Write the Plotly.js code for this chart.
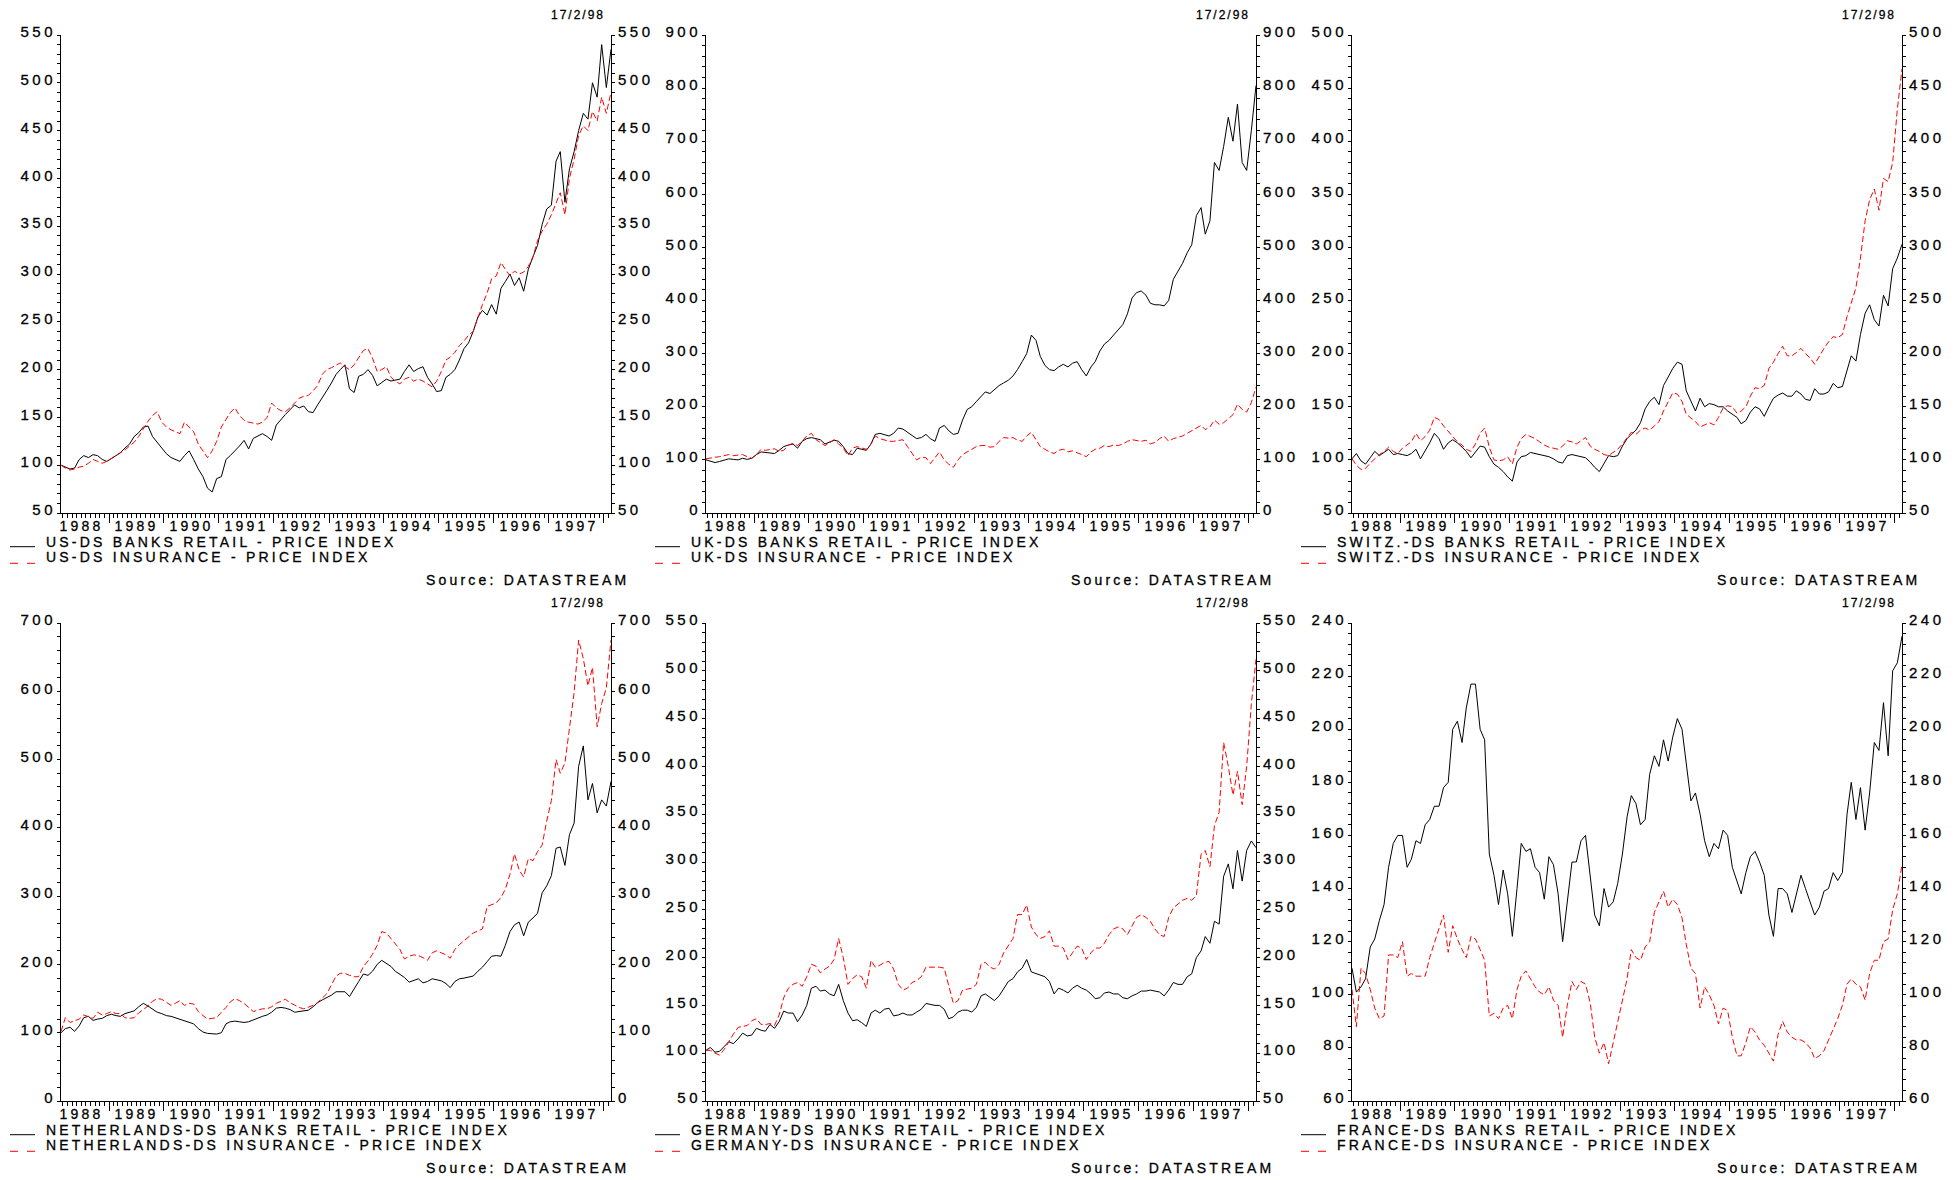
<!DOCTYPE html>
<html><head><meta charset="utf-8">
<script src="https://cdn.plot.ly/plotly-3.0.1.min.js"></script>
<style>
html,body{margin:0;padding:0;background:#fff;}
#chart{width:1957px;height:1180px;}
svg text{letter-spacing:3.2px;stroke:#000;stroke-width:0.3px;}
g[class^="y"][class$="tick"] text{letter-spacing:3.5px;}
</style></head><body><div id="chart"></div>
<script>
// Monthly observations, 17 Feb 1988 .. 17 Feb 1998
const startYear = 1988, startMonth = 2, nPoints = 121;

const usBanks = [100,98,96,97,106,110,108,111,110,106,104,
 107,110,113,118,122,130,134,140,141,130,124,118,
 112,108,106,104,110,115,106,96,88,76,72,86,
 88,106,110,115,120,126,117,128,131,133,130,126,
 142,148,153,158,163,160,162,156,155,163,170,178,
 186,195,200,205,180,176,193,195,200,194,183,186,
 190,188,189,190,198,205,198,201,203,192,185,177,
 178,192,195,200,210,222,228,240,255,262,257,268,
 258,285,292,300,288,296,282,305,318,330,352,368,
 372,418,428,375,410,428,450,468,462,500,485,540,
 495,535];
const usIns = [100,97,95,96,98,99,102,106,104,102,104,
 107,110,113,116,120,124,130,138,146,152,156,145,
 140,137,135,133,145,140,135,122,115,108,115,125,
 140,148,155,160,152,147,145,144,143,145,150,165,
 160,157,156,160,165,170,172,173,178,183,195,200,
 202,205,207,203,200,205,212,220,222,212,198,200,
 203,192,188,185,190,192,188,190,188,185,182,188,
 198,210,213,218,225,230,236,240,255,268,280,295,
 298,312,305,298,303,300,302,308,318,335,345,352,
 362,375,385,362,400,420,445,455,450,470,460,485,
 468,490];
const ukBanks = [100,98,95,97,100,102,101,100,103,101,103,
 110,115,114,113,112,118,125,128,130,122,135,140,
 142,140,138,130,133,137,135,125,112,110,122,120,
 118,130,148,150,148,145,150,160,158,152,145,140,
 142,148,140,135,160,165,155,148,150,175,195,200,
 210,220,228,225,232,240,245,250,258,270,285,300,
 335,325,295,278,270,268,275,280,275,282,285,270,
 258,275,285,305,318,325,335,345,355,375,405,415,
 418,410,395,392,392,390,400,440,455,470,490,505,
 560,575,525,550,660,645,690,745,700,770,660,645,
 720,805];
const ukIns = [102,104,105,106,108,110,108,109,110,106,103,
 110,120,118,120,121,116,118,128,131,127,135,145,
 150,138,132,127,132,138,130,122,108,122,125,122,
 120,130,145,140,137,135,135,136,138,125,112,100,
 105,104,93,105,115,100,92,86,100,110,115,120,
 125,127,127,124,125,135,142,141,142,137,135,145,
 152,138,125,120,115,112,118,120,115,117,114,110,
 106,115,120,122,127,125,128,127,130,135,138,136,
 135,137,130,133,140,145,135,140,142,145,150,155,
 160,165,157,162,175,167,170,178,185,205,195,190,
 208,237];
const swBanks = [101,106,99,96,102,108,104,107,110,105,106,
 105,104,106,110,101,108,116,125,120,110,116,119,
 116,112,108,102,108,113,112,103,96,93,89,84,
 80,98,103,104,107,106,105,104,103,101,98,97,
 104,105,104,103,102,98,93,89,97,104,103,104,
 113,120,124,128,135,148,155,159,152,170,178,186,
 192,190,165,155,146,158,150,153,152,150,150,146,
 143,140,134,137,145,150,148,141,150,158,161,163,
 160,160,165,162,157,156,167,162,162,164,172,168,
 169,185,198,193,218,238,246,232,226,255,245,280,
 290,303];
const swIns = [101,95,91,92,97,101,105,108,112,108,106,
 111,114,117,125,118,122,128,140,138,132,127,122,
 117,114,110,108,115,125,130,112,100,99,100,103,
 96,112,120,124,122,120,117,114,112,111,110,113,
 118,117,115,118,121,113,110,108,105,104,107,110,
 115,121,126,124,128,130,128,132,136,146,155,163,
 162,155,143,139,136,131,133,135,133,140,149,151,
 150,144,146,150,160,168,167,170,186,192,200,207,
 198,198,201,205,200,196,190,198,205,211,216,215,
 218,235,247,262,290,325,345,355,335,365,362,380,
 430,468];
const nlBanks = [100,106,108,102,110,122,124,118,120,121,125,
 127,125,124,128,130,132,138,143,139,134,130,128,
 125,124,122,120,118,116,113,106,101,99,99,98,
 100,113,116,117,116,115,116,119,121,124,126,130,
 136,137,136,134,130,131,132,133,138,144,148,151,
 155,160,160,160,153,165,175,186,184,190,200,206,
 202,197,190,185,181,174,176,179,173,175,179,177,
 176,172,166,175,179,180,182,183,190,196,204,212,
 213,212,228,248,258,262,242,262,268,275,305,315,
 330,370,372,345,390,407,490,520,441,465,422,441,
 432,468];
const nlIns = [102,122,115,118,120,126,123,121,130,126,128,
 131,128,128,122,121,122,129,134,139,146,150,149,
 145,140,143,147,140,143,142,131,125,120,121,122,
 130,137,145,150,147,143,137,131,133,135,135,138,
 143,146,149,144,140,137,135,137,140,144,150,157,
 170,183,187,187,184,182,182,197,205,215,228,248,
 246,238,230,222,208,212,214,213,210,206,217,220,
 217,214,209,222,229,235,241,246,249,252,285,287,
 290,298,310,332,362,338,328,355,352,365,375,410,
 440,500,480,495,545,598,675,648,608,635,548,582,
 605,675];
const deBanks = [103,106,101,102,107,112,110,115,121,118,119,
 126,124,123,130,126,133,144,142,142,133,140,150,
 168,170,165,166,162,160,172,155,142,134,135,132,
 128,142,145,142,146,147,139,140,142,140,140,143,
 146,152,151,150,150,146,136,138,143,145,145,143,
 148,160,162,158,155,160,168,175,178,185,189,198,
 185,183,182,180,175,162,168,166,163,168,171,168,
 166,162,157,158,163,164,162,162,158,157,160,162,
 165,165,166,165,164,160,166,174,172,172,180,183,
 200,207,222,215,238,235,285,298,272,312,280,312,
 322,315];
const deIns = [103,103,100,98,104,112,120,127,128,129,134,
 136,130,130,131,129,140,158,168,172,174,170,180,
 193,191,184,188,191,198,220,200,172,178,182,180,
 168,197,190,192,195,196,188,172,166,168,174,176,
 180,190,190,190,190,189,170,152,155,166,167,168,
 172,193,195,190,188,193,205,212,220,245,245,255,
 232,224,220,222,228,212,212,210,198,205,212,210,
 198,205,210,210,215,224,230,232,230,224,233,242,
 245,242,238,230,224,222,242,252,256,260,262,260,
 265,308,312,295,338,352,425,400,370,395,360,400,
 465,512];
const frBanks = [110,101,103,106,118,121,128,134,148,157,160,
 160,148,151,158,157,164,166,171,171,178,180,200,
 203,195,208,217,217,200,196,153,145,134,147,138,
 122,140,157,154,155,148,146,136,152,149,138,120,
 134,150,150,158,160,145,130,126,140,133,135,142,
 153,167,175,172,164,166,183,190,186,196,188,197,
 204,200,186,173,176,168,158,152,157,155,162,160,
 148,143,138,146,152,154,150,145,130,122,140,140,
 138,131,138,145,140,135,130,133,139,140,146,143,
 146,168,180,166,178,162,176,195,192,210,190,222,
 225,235];
const frIns = [102,88,110,108,102,95,91,92,115,115,114,
 120,107,108,107,107,107,114,120,125,130,116,126,
 121,117,114,122,121,117,113,92,93,91,95,96,
 91,102,107,109,106,103,101,100,103,98,96,84,
 96,105,102,105,104,97,84,78,82,74,82,90,
 99,106,117,114,113,118,120,131,135,139,133,136,
 134,129,119,110,108,95,103,100,96,89,95,94,
 84,77,77,82,88,86,83,81,78,75,85,90,
 86,84,83,83,82,80,76,77,79,83,87,91,
 96,104,106,104,103,98,108,113,113,120,121,132,
 138,149];

const countries = ['US','UK','SWITZ.','NETHERLANDS','GERMANY','FRANCE'];
const bankSeries = [usBanks, ukBanks, swBanks, nlBanks, deBanks, frBanks];
const insSeries = [usIns, ukIns, swIns, nlIns, deIns, frIns];
const yRanges = [[50,550],[0,900],[50,500],[0,700],[50,550],[60,240]];
const yMajor = [50,100,50,100,50,20];
const yMinor = [10,20,10,20,10,4];
const dateLabel = '17/2/98';
const sourceLabel = 'Source: DATASTREAM';
const bankSuffix = '-DS BANKS RETAIL - PRICE INDEX';
const insSuffix = '-DS INSURANCE - PRICE INDEX';

const dates = [];
for (let i = 0; i < nPoints; i++) {
  const mm = startMonth - 1 + i;
  const y = startYear + Math.floor(mm / 12);
  const m = (mm % 12) + 1;
  dates.push(y + '-' + String(m).padStart(2, '0') + '-17');
}

const W = 1957, H = 1180;
const panels = [
  {l:61, r:611, t:35, b:513},
  {l:706, r:1256, t:35, b:513},
  {l:1352, r:1902, t:35, b:513},
  {l:61, r:611, t:623, b:1101},
  {l:706, r:1256, t:623, b:1101},
  {l:1352, r:1902, t:623, b:1101}
];
const FONT = 'Liberation Sans, Arial, sans-serif';
const px = v => v / W, py = v => 1 - v / H;

const traces = [], layout = {
  width: W, height: H, margin: {l:0, r:0, t:0, b:0},
  paper_bgcolor: '#fff', plot_bgcolor: 'rgba(0,0,0,0)',
  showlegend: false, font: {family: FONT, size: 14, color: '#000'},
  annotations: [], shapes: []
};

panels.forEach((p, i) => {
  const k = i + 1, kr = i + 7;
  const xs = k === 1 ? '' : String(k);
  const xName = 'x' + xs, yName = 'y' + xs, yrName = 'y' + kr;
  traces.push({x: dates, y: bankSeries[i], xaxis: xName, yaxis: yName, type: 'scatter', mode: 'lines',
    line: {color: '#000', width: 1}, hoverinfo: 'skip'});
  traces.push({x: dates, y: insSeries[i], xaxis: xName, yaxis: yrName, type: 'scatter', mode: 'lines',
    line: {color: '#ff0000', width: 1, dash: '6px,3px'}, hoverinfo: 'skip'});
  const dom = [py(p.b), py(p.t)];
  layout['xaxis' + xs] = {
    domain: [px(p.l), px(p.r)], anchor: yName, type: 'date',
    range: ['1988-02-17', '1998-02-17'], showgrid: false, zeroline: false,
    showline: true, linecolor: '#000', linewidth: 1,
    ticks: 'outside', ticklen: 9, tickcolor: '#000', tickwidth: 1,
    tick0: '1988-01-01', dtick: 'M12', tickformat: '%Y', ticklabelmode: 'period',
    ticklabelstandoff: -9,
    minor: {dtick: 'M1', tick0: '1988-01-01', ticks: 'outside', ticklen: 4, tickcolor: '#000', showgrid: false},
    tickfont: {family: FONT, size: 14, color: '#000'}, fixedrange: true
  };
  const yCommon = {
    domain: dom, anchor: xName, range: yRanges[i], autorange: false,
    showgrid: false, zeroline: false, showline: true, linecolor: '#000', linewidth: 1,
    ticks: 'outside', ticklen: 3, tickcolor: '#000', dtick: yMajor[i], tick0: 0,
    minor: {dtick: yMinor[i], tick0: 0, ticks: 'outside', ticklen: 3, tickcolor: '#000', showgrid: false},
    tickfont: {family: FONT, size: 15, color: '#000'}, ticklabelshift: -3, fixedrange: true
  };
  layout['yaxis' + xs] = Object.assign({}, yCommon, {side: 'left', ticklabelstandoff: -2});
  layout['yaxis' + kr] = Object.assign({}, yCommon, {side: 'right', overlaying: yName});

  const off = p.t - 35;
  layout.annotations.push({xref:'paper', yref:'paper', x: px(p.r - 4), y: py(15 + off), xanchor:'right', yanchor:'middle',
    text: '<span style="letter-spacing:2px">' + dateLabel + '</span>', showarrow:false, font:{family: FONT, size: 12, color:'#000'}});
  layout.annotations.push({xref:'paper', yref:'paper', x: px(p.l - 17), y: py(541.7 + off), xanchor:'left', yanchor:'middle',
    text: countries[i] + bankSuffix, showarrow:false, font:{family: FONT, size: 14, color:'#000'}});
  layout.annotations.push({xref:'paper', yref:'paper', x: px(p.l - 17), y: py(557.4 + off), xanchor:'left', yanchor:'middle',
    text: countries[i] + insSuffix, showarrow:false, font:{family: FONT, size: 14, color:'#000'}});
  layout.annotations.push({xref:'paper', yref:'paper', x: px(p.r + 20), y: py(580 + off), xanchor:'right', yanchor:'middle',
    text: sourceLabel, showarrow:false, font:{family: FONT, size: 14, color:'#000'}});
  layout.shapes.push({type:'line', xref:'paper', yref:'paper', x0: px(p.l - 51), x1: px(p.l - 26),
    y0: py(546.7 + off), y1: py(546.7 + off), line:{color:'#000', width:1}});
  layout.shapes.push({type:'line', xref:'paper', yref:'paper', x0: px(p.l - 51), x1: px(p.l - 26),
    y0: py(563.3 + off), y1: py(563.3 + off), line:{color:'#ff0000', width:1, dash:'8px,9px'}});
});

Plotly.newPlot('chart', traces, layout, {staticPlot: true, displayModeBar: false});
</script></body></html>
